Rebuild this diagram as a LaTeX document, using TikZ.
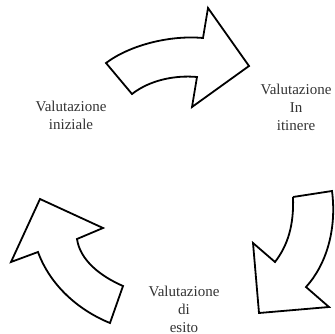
\documentclass[tikz,border=0pt]{standalone}
\usepackage{fontspec}
\setmainfont{Liberation Serif}
\begin{document}
\begin{tikzpicture}[x=1pt,y=-1pt,
  arrowshape/.style={draw=black,line width=1.8pt,line join=miter,fill=white},
  lbl/.style={align=center,inner sep=0pt,text=black!80,font={\fontsize{15}{18}\selectfont}}]
\useasboundingbox (0,0) rectangle (334,334);
% top arrow
\draw[arrowshape] (106,63) .. controls (130,45) and (170,35) .. (203,38)
  -- (208,8) -- (249,66) -- (192,107) -- (197,77)
  .. controls (175,75) and (150,80) .. (132,94) -- cycle;
% right arrow
\draw[arrowshape] (293,197) -- (332,191)
  .. controls (337,230) and (326,265) .. (306,287)
  -- (329,307) -- (259,313) -- (253,243) -- (275,262)
  .. controls (288,245) and (294,225) .. (293,197);
% left arrow
\draw[arrowshape] (110,323) -- (123,286)
  .. controls (100,276) and (80,260) .. (77,239)
  -- (103,228) -- (40,199) -- (11,262) -- (38,252)
  .. controls (50,285) and (78,310) .. (110,323) -- cycle;
\node[lbl] (ini) at (71,115.5) {Valutazione\\iniziale};
\node[lbl] (itin) at (296,107) {Valutazione\\In\\itinere};
\node[lbl] (esito) at (184,309) {Valutazione\\di\\esito};
\end{tikzpicture}
\end{document}
